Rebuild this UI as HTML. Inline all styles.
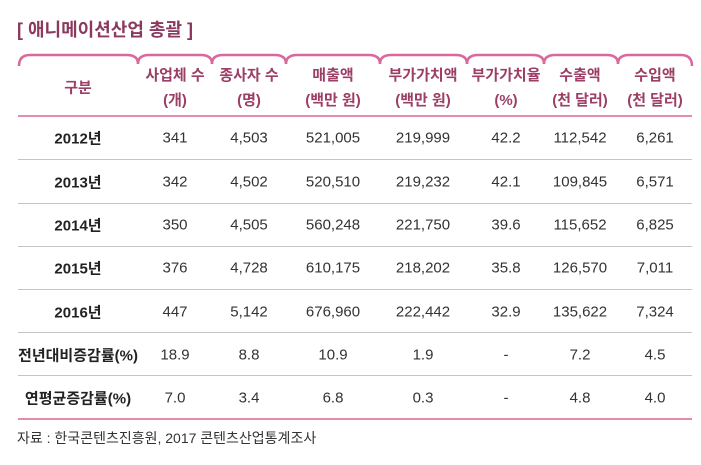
<!DOCTYPE html><html><head><meta charset="utf-8"><style>
body{margin:0;width:701px;height:465px;background:#fff;font-family:"Liberation Sans","Noto Sans CJK KR",sans-serif;position:relative;overflow:hidden}
.t{position:absolute;white-space:nowrap;transform:translate(-50%,-50%)}
.h{color:#9c3f66;font-size:15px;font-weight:bold;text-align:center;line-height:25px}
.d{color:#333;font-size:15px}
.b{font-weight:bold;color:#222}
.ln{position:absolute;left:18px;width:674px;height:1px;background:#c4c4c4}
</style></head><body>
<div style="position:absolute;left:17px;top:16px;font-size:18px;font-weight:bold;color:#8a3a5e">[ 애니메이션산업 총괄 ]</div>
<svg style="position:absolute;left:0;top:0" width="701" height="130">
<g fill="none" stroke="#d8699a" stroke-width="2.5">
<path d="M19,66 Q19,55 30,55 L127,55 Q138,55 138,64"/>
<path d="M138,64 Q138,55 149,55 L201,55 Q212,55 212,64"/>
<path d="M212,64 Q212,55 223,55 L275,55 Q286,55 286,64"/>
<path d="M286,64 Q286,55 297,55 L369,55 Q380,55 380,64"/>
<path d="M380,64 Q380,55 391,55 L456,55 Q467,55 467,64"/>
<path d="M467,64 Q467,55 478,55 L533,55 Q544,55 544,64"/>
<path d="M544,64 Q544,55 555,55 L607,55 Q618,55 618,64"/>
<path d="M618,64 Q618,55 629,55 L681,55 Q692,55 692,66"/>
</g>
<line x1="18" y1="116" x2="692" y2="116" stroke="#d8699a" stroke-width="1.5"/>
</svg>
<div class="t h" style="left:78px;top:88px">구분</div>
<div class="t h" style="left:175px;top:88px">사업체 수<br>(개)</div>
<div class="t h" style="left:249px;top:88px">종사자 수<br>(명)</div>
<div class="t h" style="left:333px;top:88px">매출액<br>(백만 원)</div>
<div class="t h" style="left:423px;top:88px">부가가치액<br>(백만 원)</div>
<div class="t h" style="left:506px;top:88px">부가가치율<br>(%)</div>
<div class="t h" style="left:580px;top:88px">수출액<br>(천 달러)</div>
<div class="t h" style="left:655px;top:88px">수입액<br>(천 달러)</div>
<div class="ln" style="top:159px"></div><div class="ln" style="top:203px"></div><div class="ln" style="top:246px"></div><div class="ln" style="top:289px"></div><div class="ln" style="top:332px"></div><div class="ln" style="top:375px"></div>
<div class="ln" style="top:418px;background:#e48aae;height:1.5px"></div>
<div id="rows"></div>
<div style="position:absolute;left:17px;top:428px;font-size:14px;color:#333">자료 : 한국콘텐츠진흥원, 2017 콘텐츠산업통계조사</div>
<script>
var r=[["2012년","341","4,503","521,005","219,999","42.2","112,542","6,261"],
["2013년","342","4,502","520,510","219,232","42.1","109,845","6,571"],
["2014년","350","4,505","560,248","221,750","39.6","115,652","6,825"],
["2015년","376","4,728","610,175","218,202","35.8","126,570","7,011"],
["2016년","447","5,142","676,960","222,442","32.9","135,622","7,324"],
["전년대비증감률(%)","18.9","8.8","10.9","1.9","-","7.2","4.5"],
["연평균증감률(%)","7.0","3.4","6.8","0.3","-","4.8","4.0"]];
var ys=[138,182,225,268,312,355,398],xs=[78,175,249,333,423,506,580,655],h="";
r.forEach(function(row,i){row.forEach(function(c,j){h+='<div class="t d'+(j==0?' b':'')+'" style="left:'+xs[j]+'px;top:'+ys[i]+'px">'+c+'</div>';});});
document.getElementById("rows").innerHTML=h;
</script>
</body></html>
